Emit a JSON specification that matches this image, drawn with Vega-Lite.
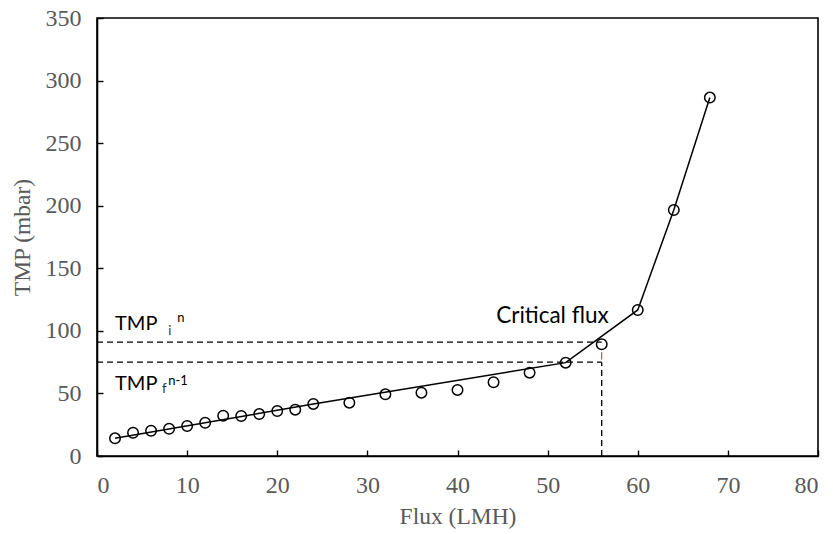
{
  "$schema": "https://vega.github.io/schema/vega-lite/v6.json",
  "width": 721,
  "height": 438,
  "autosize": "none",
  "padding": {"left": 97, "top": 18, "right": 15, "bottom": 78},
  "background": "white",
  "config": {
    "view": {"stroke": "black", "strokeWidth": 1.6},
    "axis": {
      "grid": false,
      "domainColor": "black",
      "domainWidth": 1.6,
      "tickColor": "black",
      "tickWidth": 1.4,
      "tickSize": -6,
      "labelFont": "Liberation Serif",
      "labelFontSize": 24,
      "labelColor": "#595959",
      "titleFont": "Liberation Serif",
      "titleFontSize": 23.5,
      "titleFontWeight": "normal",
      "titleColor": "#595959"
    }
  },
  "datasets": {
    "measured": [
      {"flux": 2, "tmp": 14.1},
      {"flux": 4, "tmp": 18.6},
      {"flux": 6, "tmp": 20.2},
      {"flux": 8, "tmp": 21.8},
      {"flux": 10, "tmp": 24.0},
      {"flux": 12, "tmp": 26.6},
      {"flux": 14, "tmp": 32.2},
      {"flux": 16, "tmp": 32.0},
      {"flux": 18, "tmp": 33.5},
      {"flux": 20, "tmp": 36.0},
      {"flux": 22, "tmp": 37.0},
      {"flux": 24, "tmp": 41.6},
      {"flux": 28, "tmp": 42.6},
      {"flux": 32, "tmp": 49.3},
      {"flux": 36, "tmp": 50.6},
      {"flux": 40, "tmp": 52.8},
      {"flux": 44, "tmp": 58.9},
      {"flux": 48, "tmp": 66.6},
      {"flux": 52, "tmp": 74.6},
      {"flux": 56, "tmp": 89.3},
      {"flux": 60, "tmp": 116.7},
      {"flux": 64, "tmp": 196.6},
      {"flux": 68, "tmp": 286.4}
    ],
    "trend": [
      {"flux": 2, "tmp": 14.1},
      {"flux": 24, "tmp": 41.6},
      {"flux": 52, "tmp": 74.6},
      {"flux": 60, "tmp": 116.7},
      {"flux": 64, "tmp": 196.6},
      {"flux": 68, "tmp": 286.4}
    ],
    "guides": [
      {"x": 0, "x2": 56, "y": 91, "y2": 91},
      {"x": 0, "x2": 56, "y": 75, "y2": 75},
      {"x": 56, "x2": 56, "y": 0, "y2": 75}
    ],
    "marker": [
      {"x": 56, "y": 77, "y2": 83}
    ],
    "labels": [
      {"x": 2, "y": 100.7, "text": "TMP"},
      {"x": 2, "y": 52.8, "text": "TMP"}
    ],
    "callout": [
      {"x": 44.3, "y": 106.3, "text": "Critical flux"}
    ],
    "subs": [
      {"x": 7.9, "y": 96.7, "text": "i"},
      {"x": 7.2, "y": 50.4, "text": "f"}
    ],
    "sups": [
      {"x": 8.9, "y": 107, "text": "n"},
      {"x": 7.9, "y": 56.8, "text": "n-1"}
    ]
  },
  "encoding": {
    "x": {
      "field": "flux", "type": "quantitative",
      "scale": {"domain": [0, 80], "nice": false, "zero": false},
      "axis": {"title": "Flux (LMH)", "values": [0, 10, 20, 30, 40, 50, 60, 70, 80], "labelPadding": 23, "titlePadding": 7}
    },
    "y": {
      "field": "tmp", "type": "quantitative",
      "scale": {"domain": [0, 350], "nice": false, "zero": false},
      "axis": {"title": "TMP (mbar)", "values": [0, 50, 100, 150, 200, 250, 300, 350], "labelPadding": 22, "titlePadding": 11}
    }
  },
  "layer": [
    {
      "data": {"name": "guides"},
      "mark": {"type": "rule", "stroke": "black", "strokeWidth": 1.3, "strokeDash": [6, 4]},
      "encoding": {
        "x": {"field": "x", "type": "quantitative"},
        "x2": {"field": "x2"},
        "y": {"field": "y", "type": "quantitative"},
        "y2": {"field": "y2"}
      }
    },
    {
      "data": {"name": "marker"},
      "mark": {"type": "rule", "stroke": "#e02020", "strokeWidth": 1},
      "encoding": {
        "x": {"field": "x", "type": "quantitative"},
        "y": {"field": "y", "type": "quantitative"},
        "y2": {"field": "y2"}
      }
    },
    {
      "data": {"name": "trend"},
      "mark": {"type": "line", "stroke": "black", "strokeWidth": 1.5}
    },
    {
      "data": {"name": "measured"},
      "mark": {"type": "point", "shape": "circle", "filled": false, "stroke": "black", "strokeWidth": 1.5, "size": 110, "opacity": 1}
    },
    {
      "data": {"name": "labels"},
      "mark": {"type": "text", "font": "Lato", "fontSize": 20, "align": "left", "baseline": "alphabetic", "fill": "black"},
      "encoding": {
        "x": {"field": "x", "type": "quantitative"},
        "y": {"field": "y", "type": "quantitative"},
        "text": {"field": "text"}
      }
    },
    {
      "data": {"name": "callout"},
      "mark": {"type": "text", "font": "Lato", "fontSize": 22.5, "align": "left", "baseline": "alphabetic", "fill": "black"},
      "encoding": {
        "x": {"field": "x", "type": "quantitative"},
        "y": {"field": "y", "type": "quantitative"},
        "text": {"field": "text"}
      }
    },
    {
      "data": {"name": "subs"},
      "mark": {"type": "text", "font": "Lato", "fontSize": 13, "align": "left", "baseline": "alphabetic", "fill": "#333333"},
      "encoding": {
        "x": {"field": "x", "type": "quantitative"},
        "y": {"field": "y", "type": "quantitative"},
        "text": {"field": "text"}
      }
    },
    {
      "data": {"name": "sups"},
      "mark": {"type": "text", "font": "Lato", "fontSize": 13, "align": "left", "baseline": "alphabetic", "fill": "black"},
      "encoding": {
        "x": {"field": "x", "type": "quantitative"},
        "y": {"field": "y", "type": "quantitative"},
        "text": {"field": "text"}
      }
    }
  ]
}
